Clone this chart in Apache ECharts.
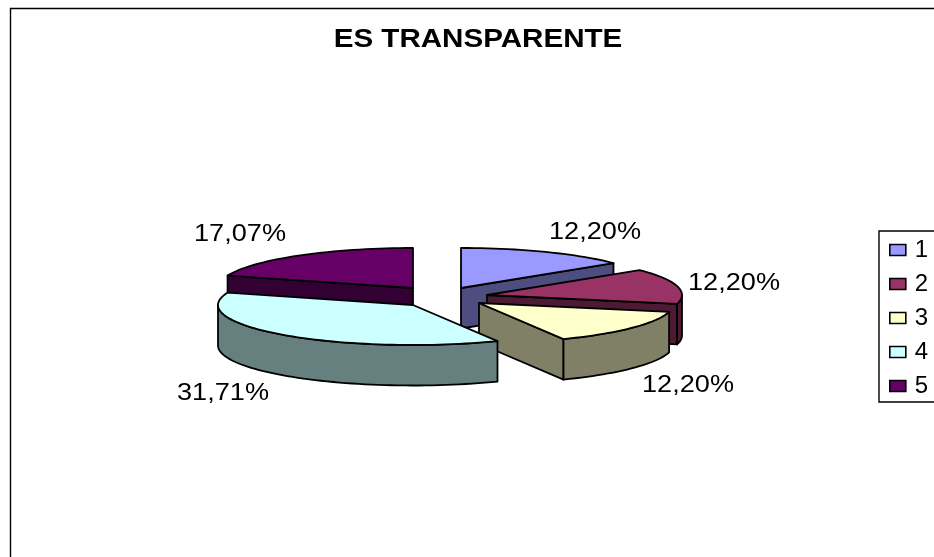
<!DOCTYPE html>
<html>
<head>
<meta charset="utf-8">
<style>html,body{margin:0;padding:0;background:#fff}#c{width:934px;height:557px}</style>
<script src="https://cdn.jsdelivr.net/npm/echarts@6/dist/echarts.min.js"></script>
</head>
<body>
<div id="c"></div>
<script>
const chartTitle = 'ES TRANSPARENTE';
const categories = ['1', '2', '3', '4', '5'];
const values = [12.20, 12.20, 12.20, 31.71, 17.07];

// styles and layout (not data)
const topColors = ['#9999FF', '#993366', '#FFFFCC', '#CCFFFF', '#660066'];
const sideColors = ['#4D4D80', '#4D1A33', '#808066', '#668080', '#330033'];
const centers = [[461, 288], [487, 295], [479, 303], [413, 305], [413, 288]];
const labelAt = [[595, 232], [734, 283], [688, 385], [223, 393.5], [240, 234]];
const drawOrder = [4, 0, 1, 2, 3];
const RX = 195, RY = 40, DEPTH = 40.5, STRETCH = 1.13;
const FONT = '"Liberation Sans", Arial, sans-serif';

const total = values.reduce((a, b) => a + b, 0);
const startAngle = [];
values.reduce((acc, v, i) => { startAngle[i] = acc; return acc + v / total * 360; }, 0);

function pt(c, deg, dz) {
  const r = deg * Math.PI / 180;
  return [c[0] + RX * Math.sin(r), c[1] - RY * Math.cos(r) + (dz || 0)];
}
function arc(c, a, b, dz) {
  const out = [];
  const n = Math.max(2, Math.ceil(Math.abs(b - a) / 2));
  for (let i = 0; i <= n; i++) out.push(pt(c, a + (b - a) * i / n, dz));
  return out;
}
function face(points, fill) {
  return {
    type: 'polygon',
    shape: { points: points },
    style: { fill: fill, stroke: '#000', lineWidth: 1.8, lineJoin: 'round' }
  };
}
function wall(c, deg, fill) {
  const p = pt(c, deg);
  return face([c, p, [p[0], p[1] + DEPTH], [c[0], c[1] + DEPTH]], fill);
}
function makeRender(i) {
  return function (params, api) {
    const share = api.value(0) / total * 360;
    const a = startAngle[i], b = a + share;
    const c = centers[i];
    const kids = [];
    if (a > 180 && a < 360) kids.push(wall(c, a, sideColors[i]));
    if (b > 0 && b < 180) kids.push(wall(c, b, sideColors[i]));
    const ra = Math.max(a, 90), rb = Math.min(b, 270);
    if (rb > ra) {
      kids.push(face(arc(c, ra, rb, 0).concat(arc(c, rb, ra, DEPTH)), sideColors[i]));
    }
    kids.push(face([c].concat(arc(c, a, b, 0)), topColors[i]));
    kids.push({
      type: 'text',
      x: labelAt[i][0], y: labelAt[i][1], scaleX: STRETCH,
      style: {
        text: api.value(0).toFixed(2).replace('.', ',') + '%',
        font: '24px ' + FONT, fill: '#000', align: 'center', verticalAlign: 'middle'
      }
    });
    return { type: 'group', children: kids };
  };
}

const chart = echarts.init(document.getElementById('c'), null, { renderer: 'canvas' });
chart.setOption({
  animation: false,
  backgroundColor: '#fff',
  graphic: [
    { type: 'rect', shape: { x: 10.5, y: 8.5, width: 1000, height: 1000 }, silent: true, z: -10,
      style: { fill: 'none', stroke: '#000', lineWidth: 1.4 } },
    { type: 'text', x: 478, y: 39.5, scaleX: 1.16, silent: true,
      style: { text: chartTitle, font: 'bold 25.5px ' + FONT, fill: '#000', align: 'center', verticalAlign: 'middle' } }
  ],
  legend: {
    data: categories,
    orient: 'vertical',
    left: 879, top: 231,
    padding: [7, 100, 4, 10],
    itemWidth: 16, itemHeight: 11, itemGap: 10,
    icon: 'rect',
    selectedMode: false,
    backgroundColor: '#fff',
    borderColor: '#000', borderWidth: 1.4,
    textStyle: { fontFamily: FONT, fontSize: 24, color: '#000', padding: [0, 0, 0, 4] },
    itemStyle: { borderColor: '#000', borderWidth: 1.6 }
  },
  series: drawOrder.map(i => ({
    type: 'custom',
    name: categories[i],
    coordinateSystem: 'none',
    silent: true,
    itemStyle: { color: topColors[i] },
    data: [[values[i]]],
    renderItem: makeRender(i)
  }))
});
</script>
</body>
</html>
